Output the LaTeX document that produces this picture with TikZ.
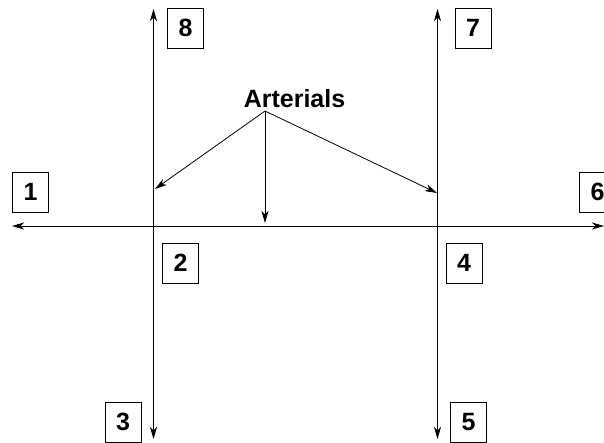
\documentclass[tikz,border=0pt]{standalone}
\usepackage{fontspec}
\setmainfont{Liberation Sans}
\usetikzlibrary{arrows.meta}
\begin{document}
\begin{tikzpicture}[x=1pt,y=-1pt,
  numbox/.style={draw,line width=0.8pt,minimum width=36pt,minimum height=40pt,inner sep=0pt,font=\fontsize{25}{25}\selectfont\bfseries},
  road/.style={line width=0.9pt,{Stealth[length=12pt,width=7pt,inset=3.5pt]}-{Stealth[length=12pt,width=7pt,inset=3.5pt]}},
  pointer/.style={line width=0.8pt,-{Stealth[length=12pt,width=7pt,inset=3.5pt]}}]
\useasboundingbox (0,0) rectangle (604,443);
\clip (0,0) rectangle (604,443);
\fill[white] (0,0) rectangle (604,443);
% roads
\coordinate (hl) at (12,226);
\coordinate (hr) at (604,226);
\coordinate (v1t) at (153.5,9);
\coordinate (v1b) at (153.5,439);
\coordinate (v2t) at (437.5,9);
\coordinate (v2b) at (437.5,439);
\draw[road] (hl) -- (hr);
\draw[road] (v1b) -- (v1t);
\draw[road] (v2b) -- (v2t);
% boxes
\node[numbox] (b1) at (30.5,192) {1};
\node[numbox] (b6) at (597.5,192) {6};
\node[numbox] (b8) at (185.5,28) {8};
\node[numbox] (b7) at (473,28) {7};
\node[numbox] (b2) at (180.5,263) {2};
\node[numbox] (b4) at (464,263) {4};
\node[numbox] (b3) at (123,422) {3};
\node[numbox] (b5) at (468.5,422) {5};
% arterials
\node[font=\fontsize{25}{25}\selectfont\bfseries,inner sep=0pt] (art) at (294.5,99) {Arterials};
\coordinate (src) at (265,111);
\coordinate (t1) at (155,189);
\coordinate (t2) at (265,223);
\coordinate (t3) at (437,193);
\draw[pointer] (src) -- (t1);
\draw[pointer] (src) -- (t2);
\draw[pointer] (src) -- (t3);
\end{tikzpicture}
\end{document}
